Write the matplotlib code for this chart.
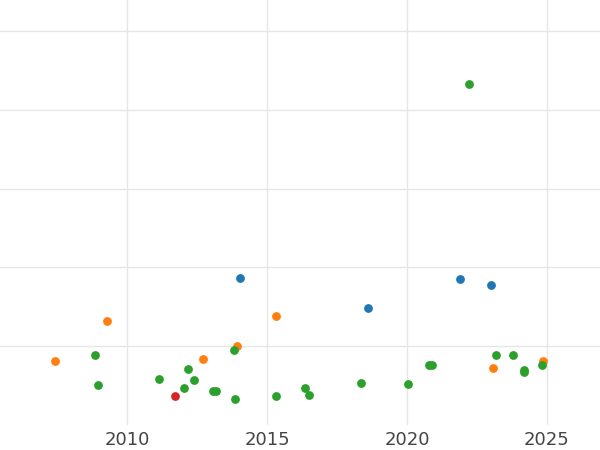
import matplotlib
matplotlib.use("Agg")
import matplotlib.pyplot as plt

blue_x = [2014.03, 2018.6, 2021.89, 2023.0]
blue_y = [1.87, 1.49, 1.86, 1.78]
orange_x = [2007.42, 2009.28, 2012.71, 2013.92, 2015.32, 2023.07, 2024.85]
orange_y = [0.82, 1.32, 0.84, 1.0, 1.38, 0.72, 0.82]
green_x = [2008.85, 2008.96, 2011.14, 2012.03, 2012.17, 2012.39, 2013.07, 2013.18,
           2013.82, 2013.85, 2015.32, 2016.35, 2016.5, 2018.35, 2020.03, 2020.78,
           2020.89, 2022.21, 2023.17, 2023.78, 2024.17, 2024.17, 2024.82]
green_y = [0.89, 0.51, 0.59, 0.47, 0.71, 0.57, 0.44, 0.44,
           0.96, 0.33, 0.37, 0.47, 0.38, 0.53, 0.52, 0.76,
           0.76, 4.32, 0.89, 0.89, 0.70, 0.67, 0.76]
red_x = [2011.71]
red_y = [0.37]

fig, ax = plt.subplots(figsize=(6, 4.5), dpi=100)
fig.subplots_adjust(left=0, right=1, top=1, bottom=0.055)
for xs, ys, c in [(blue_x, blue_y, "#1f77b4"), (orange_x, orange_y, "#ff7f0e"),
                  (green_x, green_y, "#2ca02c"), (red_x, red_y, "#d62728")]:
    ax.scatter(xs, ys, s=40, color=c, zorder=3, linewidths=0)

ax.set_xlim(2005.46, 2026.9)
ax.set_ylim(0, 5.39)
ax.set_xticks([2010, 2015, 2020, 2025])
ax.set_yticks([1, 2, 3, 4, 5])
ax.set_yticklabels([])
ax.grid(True, color="#e6e6e6", linewidth=1)
ax.tick_params(length=0, labelsize=13, labelcolor="#444444", axis="x", pad=4)
ax.tick_params(length=0, axis="y")
for s in ax.spines.values():
    s.set_visible(False)
fig.savefig("out.png")
